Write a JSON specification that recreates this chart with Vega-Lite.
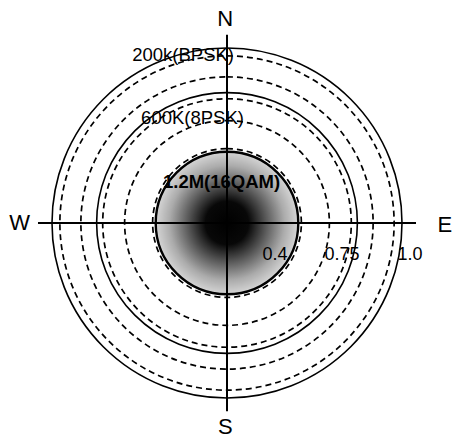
{
  "$schema": "https://vega.github.io/schema/vega-lite/v6.json",
  "width": 454,
  "height": 436,
  "autosize": {"type": "none"},
  "padding": {"top": 5, "left": 0, "right": 0, "bottom": 0},
  "background": "white",
  "config": {"view": {"stroke": null}, "font": "Liberation Sans"},
  "datasets": {
    "core": [{"r": 0.41}],
    "rings": [
      {"r": 1.0, "kind": "solid"},
      {"r": 0.955, "kind": "dashed"},
      {"r": 0.835, "kind": "dashed"},
      {"r": 0.745, "kind": "solid"},
      {"r": 0.71, "kind": "dashed"},
      {"r": 0.585, "kind": "dashed"},
      {"r": 0.425, "kind": "dashed"},
      {"r": 0.405, "kind": "solid"}
    ],
    "cross": [
      {"x": -1.08, "y": 0, "x2": 1.08, "y2": 0},
      {"x": 0, "y": -1.075, "x2": 0, "y2": 1.075}
    ],
    "compass": [
      {"x": -0.01, "y": 1.165, "label": "N"},
      {"x": -0.01, "y": -1.165, "label": "S"},
      {"x": -1.185, "y": 0, "label": "W"},
      {"x": 1.245, "y": -0.01, "label": "E"}
    ],
    "modes": [
      {"x": -0.251, "y": 0.96, "label": "200k(BPSK)"},
      {"x": -0.197, "y": 0.6, "label": "600K(8PSK)"}
    ],
    "mode3": [
      {"x": -0.031, "y": 0.234, "label": "1.2M(16QAM)"}
    ],
    "ticks": [
      {"x": 0.274, "y": -0.183, "label": "0.4"},
      {"x": 0.657, "y": -0.183, "label": "0.75"},
      {"x": 1.046, "y": -0.183, "label": "1.0"}
    ]
  },
  "layer": [
    {
      "data": {"name": "core"},
      "mark": {
        "type": "arc",
        "theta": 0,
        "theta2": 6.2832,
        "stroke": "black",
        "strokeWidth": 1.5,
        "fill": {
          "gradient": "radial",
          "x1": 0.5, "y1": 0.5, "r1": 0,
          "x2": 0.5, "y2": 0.5, "r2": 0.5,
          "stops": [
            {"offset": 0, "color": "#000000"},
            {"offset": 0.3, "color": "#080808"},
            {"offset": 0.55, "color": "#5a5a5a"},
            {"offset": 0.8, "color": "#ababab"},
            {"offset": 1, "color": "#d6d6d6"}
          ]
        }
      },
      "encoding": {
        "radius": {"field": "r", "type": "quantitative", "stack": null, "scale": {"type": "linear", "domain": [0, 1], "range": [0, 175], "zero": true, "nice": false}}
      }
    },
    {
      "data": {"name": "rings"},
      "transform": [{"filter": "datum.kind === 'solid'"}],
      "mark": {"type": "arc", "theta": 0, "theta2": 6.2832, "filled": false, "stroke": "black", "strokeWidth": 1.6},
      "encoding": {
        "radius": {"field": "r", "type": "quantitative", "stack": null, "scale": {"type": "linear", "domain": [0, 1], "range": [0, 175], "zero": true, "nice": false}}
      }
    },
    {
      "data": {"name": "rings"},
      "transform": [{"filter": "datum.kind === 'dashed'"}],
      "mark": {"type": "arc", "theta": 0, "theta2": 6.2832, "filled": false, "stroke": "black", "strokeWidth": 1.7, "strokeDash": [6, 4]},
      "encoding": {
        "radius": {"field": "r", "type": "quantitative", "stack": null, "scale": {"type": "linear", "domain": [0, 1], "range": [0, 175], "zero": true, "nice": false}}
      }
    },
    {
      "data": {"name": "cross"},
      "mark": {"type": "rule", "color": "black", "strokeWidth": 2},
      "encoding": {
        "x": {"field": "x", "type": "quantitative", "scale": {"domain": [-1.2971, 1.2971], "nice": false, "zero": false}, "axis": null},
        "y": {"field": "y", "type": "quantitative", "scale": {"domain": [-1.2457, 1.2457], "nice": false, "zero": false}, "axis": null},
        "x2": {"field": "x2"},
        "y2": {"field": "y2"}
      }
    },
    {
      "data": {"name": "compass"},
      "mark": {"type": "text", "fontSize": 22, "color": "black", "align": "center", "baseline": "middle"},
      "encoding": {
        "x": {"field": "x", "type": "quantitative", "scale": {"domain": [-1.2971, 1.2971], "nice": false, "zero": false}, "axis": null},
        "y": {"field": "y", "type": "quantitative", "scale": {"domain": [-1.2457, 1.2457], "nice": false, "zero": false}, "axis": null},
        "text": {"field": "label"}
      }
    },
    {
      "data": {"name": "modes"},
      "mark": {"type": "text", "fontSize": 18.5, "color": "black", "align": "center", "baseline": "middle"},
      "encoding": {
        "x": {"field": "x", "type": "quantitative", "scale": {"domain": [-1.2971, 1.2971], "nice": false, "zero": false}, "axis": null},
        "y": {"field": "y", "type": "quantitative", "scale": {"domain": [-1.2457, 1.2457], "nice": false, "zero": false}, "axis": null},
        "text": {"field": "label"}
      }
    },
    {
      "data": {"name": "mode3"},
      "mark": {"type": "text", "fontSize": 18.5, "fontWeight": "bold", "color": "black", "align": "center", "baseline": "middle"},
      "encoding": {
        "x": {"field": "x", "type": "quantitative", "scale": {"domain": [-1.2971, 1.2971], "nice": false, "zero": false}, "axis": null},
        "y": {"field": "y", "type": "quantitative", "scale": {"domain": [-1.2457, 1.2457], "nice": false, "zero": false}, "axis": null},
        "text": {"field": "label"}
      }
    },
    {
      "data": {"name": "ticks"},
      "mark": {"type": "text", "fontSize": 18, "color": "black", "align": "center", "baseline": "middle"},
      "encoding": {
        "x": {"field": "x", "type": "quantitative", "scale": {"domain": [-1.2971, 1.2971], "nice": false, "zero": false}, "axis": null},
        "y": {"field": "y", "type": "quantitative", "scale": {"domain": [-1.2457, 1.2457], "nice": false, "zero": false}, "axis": null},
        "text": {"field": "label"}
      }
    }
  ]
}
